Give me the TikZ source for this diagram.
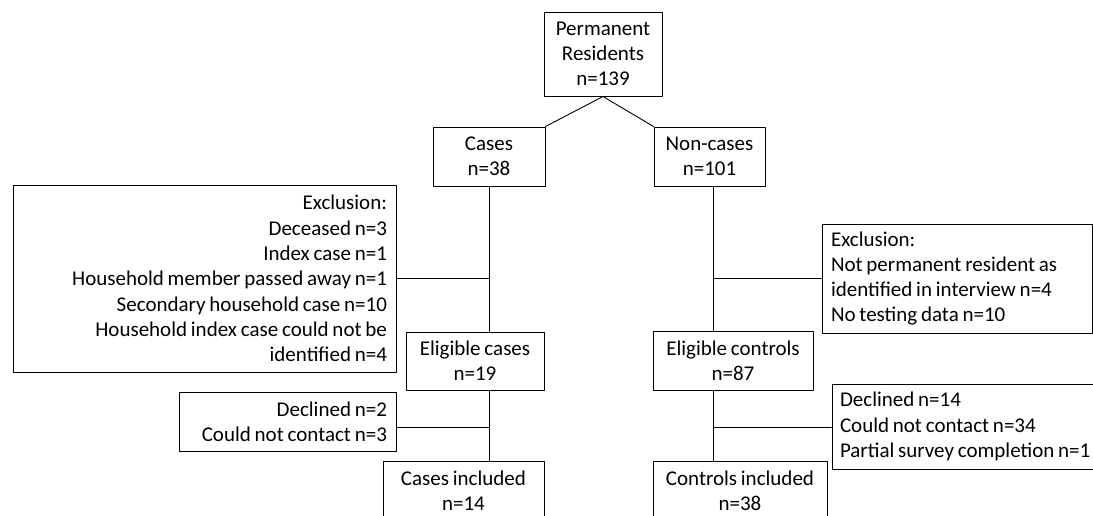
\documentclass[tikz,border=0pt]{standalone}
\usepackage{fontspec}
\setmainfont{Carlito}[WordSpace=0.8]
\newcommand\flowfont{\fontsize{21}{25.3}\selectfont}
\begin{document}
\begin{tikzpicture}[x=1pt, y=-1pt, line join=round, line cap=round,
  box/.style={draw, line width=1pt, inner sep=0pt, align=center, font=\flowfont},
  sidebox/.style={draw, line width=1pt, inner xsep=9pt, inner ysep=0pt, font=\flowfont},
  link/.style={line width=0.9pt}]
\def\xl{489} \def\xr{713}
\useasboundingbox (0,0) rectangle (1093,515);
\clip (0,0) rectangle (1093,515);
% main column
\node[box, minimum width=118, minimum height=84] (res) at (603,54) {Permanent\\Residents\\n=139};
\node[box, minimum width=112, minimum height=59] (cases) at (489,156.5) {Cases\\n=38};
\node[box, minimum width=111, minimum height=59] (noncases) at (709.5,156.5) {Non-cases\\n=101};
\node[box, minimum width=138, minimum height=58] (eligcases) at (475,361) {Eligible cases\\n=19};
\node[box, minimum width=160, minimum height=59] (eligctrl) at (733,360.5) {Eligible controls\\n=87};
\node[box, minimum width=161, minimum height=59] (inclcases) at (463.5,490.5) {Cases included\\n=14};
\node[box, minimum width=174, minimum height=59] (inclctrl) at (740,490.5) {Controls included\\n=38};
% exclusions
\node[sidebox, text width=365, minimum height=187, align=flush right] (exclcases) at (204.5,278.5)
  {Exclusion:\\Deceased n=3\\Index case n=1\\Household member passed away n=1\\Secondary household case n=10\\Household index case could not be\\identified n=4};
\node[sidebox, text width=252, minimum height=109, align=flush left] (exclctrl) at (957,278.5)
  {Exclusion:\\Not permanent resident as\\identified in interview n=4\\No testing data n=10};
\node[sidebox, text width=199, minimum height=59, align=flush right] (declcases) at (287.5,421.5)
  {Declined n=2\\Could not contact n=3};
\node[sidebox, inner xsep=8pt, text width=270, minimum height=85, align=flush left] (declctrl) at (975,426.5)
  {Declined n=14\\Could not contact n=34\\Partial survey completion n=1};
% junctions
\coordinate (jc1) at (\xl,278);
\coordinate (jc2) at (\xl,427);
\coordinate (jr1) at (\xr,278);
\coordinate (jr2) at (\xr,427);
\draw[link] (res.south) -- (cases.north east)
  (res.south) -- (noncases.north west);
\draw[link] (cases.south) -- (jc1 |- eligcases.north)
  (jc1 |- eligcases.south) -- (jc1 |- inclcases.north)
  (exclcases.east |- jc1) -- (jc1)
  (declcases.east |- jc2) -- (jc2);
\draw[link] (jr1 |- noncases.south) -- (jr1 |- eligctrl.north)
  (jr1 |- eligctrl.south) -- (jr1 |- inclctrl.north)
  (exclctrl.west |- jr1) -- (jr1)
  (declctrl.west |- jr2) -- (jr2);
\end{tikzpicture}
\end{document}
